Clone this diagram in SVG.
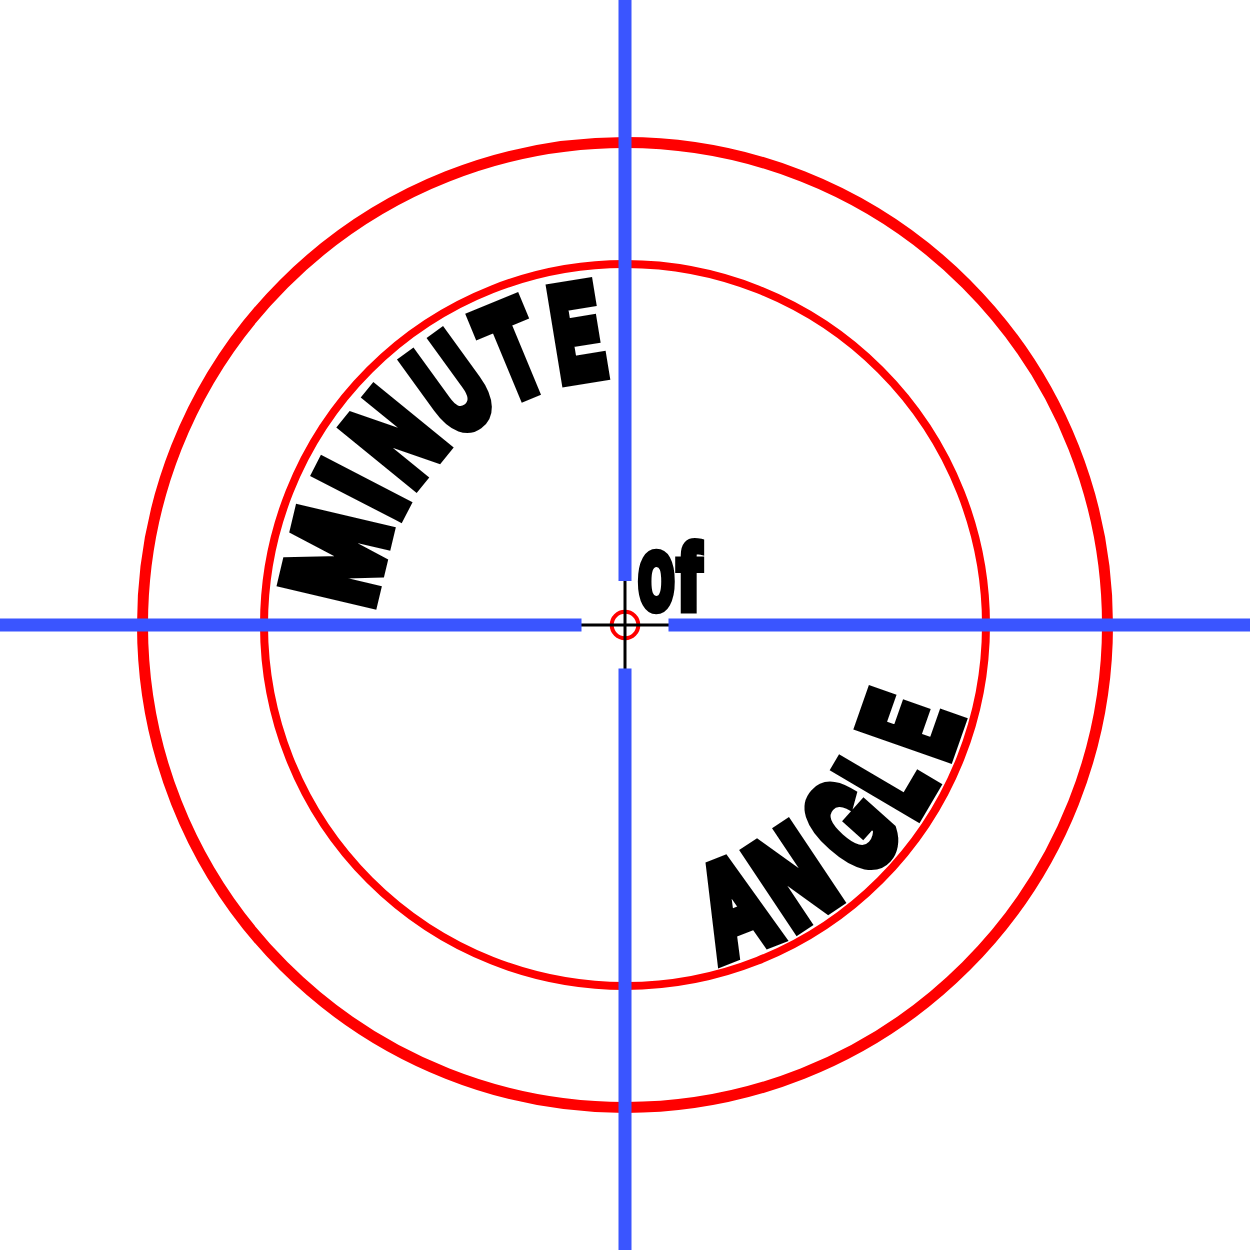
<svg xmlns="http://www.w3.org/2000/svg" width="1250" height="1250" viewBox="0 0 1250 1250">
<style>
.ring{fill:none;stroke:#ff0000}
.blue{stroke:#3a55ff;stroke-width:13;fill:none}
.cross{stroke:#000;stroke-width:3;fill:none}
.lt{font-family:"Liberation Sans",Arial,sans-serif;font-weight:bold;font-size:100px;fill:#000;stroke:#000;stroke-width:12;stroke-linejoin:miter;stroke-miterlimit:2;text-anchor:middle;vector-effect:non-scaling-stroke}
.of{font-family:"Liberation Sans",Arial,sans-serif;font-weight:bold;font-size:100px;fill:#000;stroke:#000;stroke-width:7;stroke-linejoin:miter;stroke-miterlimit:2;vector-effect:non-scaling-stroke}
</style>
<rect width="1250" height="1250" fill="#fff"/>
<g id="rings">
<circle class="ring" cx="625" cy="625" r="482.5" stroke-width="11"/>
<circle class="ring" cx="625" cy="625" r="361" stroke-width="8"/>
<circle class="ring" cx="625" cy="625" r="13.3" stroke-width="4"/>
</g>
<g id="crosshair">
<line class="cross" x1="581" y1="625" x2="669" y2="625"/>
<line class="cross" x1="625" y1="581" x2="625" y2="669"/>
</g>
<g id="axes">
<line class="blue" x1="0" y1="625" x2="581.5" y2="625"/>
<line class="blue" x1="668.5" y1="625" x2="1250" y2="625"/>
<line class="blue" x1="625" y1="0" x2="625" y2="581"/>
<line class="blue" x1="625" y1="668.5" x2="625" y2="1250"/>
</g>
<g id="minute">
<text class="lt" transform="translate(625 625) rotate(-76.7) translate(0 -252) scale(1.06 1.3)">M</text>
<text class="lt" transform="translate(625 625) rotate(-62.7) translate(0 -252) scale(0.95 1.3)">I</text>
<text class="lt" transform="translate(625 625) rotate(-50.8) translate(0 -252) scale(0.84 1.3)">N</text>
<text class="lt" transform="translate(625 625) rotate(-36) translate(0 -252) scale(0.8 1.3)">U</text>
<text class="lt" transform="translate(625 625) rotate(-22.5) translate(0 -252) scale(0.82 1.3)">T</text>
<text class="lt" transform="translate(625 625) rotate(-9.3) translate(0 -252) scale(0.72 1.3)">E</text>
</g>
<g id="of">
<text class="of" transform="translate(638 609) scale(0.6 1.03)">o</text>
<text class="of" transform="translate(677 609) scale(0.72 0.92)">f</text>
</g>
<g id="angle">
<text class="lt" transform="translate(625 625) rotate(-21.3) translate(0 347) scale(0.92 1.3)">A</text>
<text class="lt" transform="translate(625 625) rotate(-33.7) translate(0 347) scale(0.86 1.3)">N</text>
<text class="lt" transform="translate(625 625) rotate(-48.3) translate(0 347) scale(0.78 1.3)">G</text>
<text class="lt" transform="translate(625 625) rotate(-59.5) translate(0 347) scale(0.72 1.3)">L</text>
<text class="lt" transform="translate(625 625) rotate(-70.7) translate(0 347) scale(0.72 1.3)">E</text>
</g>
</svg>
